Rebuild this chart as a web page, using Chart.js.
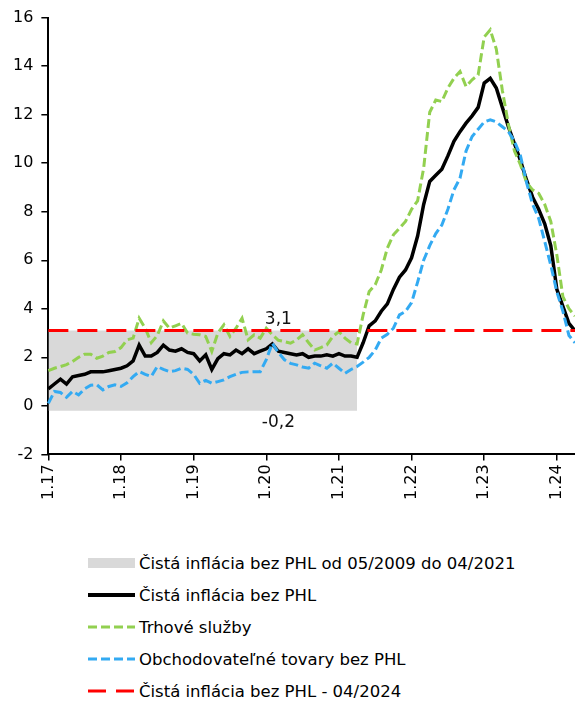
<!DOCTYPE html>
<html>
<head>
<meta charset="utf-8">
<script src="https://cdn.jsdelivr.net/npm/chart.js@4"></script>
<style>
    body { margin: 0; background: #fff; font-family: "DejaVu Sans", Verdana, sans-serif; overflow: hidden; }
    #wrap { position: relative; width: 575px; height: 701px; }
    #chart-box { position: absolute; left: 0; top: 0; width: 575px; height: 504px; }
    #legend { position: absolute; left: 88px; top: 547px; }
    .row { display: flex; align-items: center; height: 32px; font-size: 16.5px; color: #000; white-space: nowrap; }
    .row svg { width: 48px; height: 12px; margin-right: 3px; }
</style>
</head>
<body>
<div id="wrap">
    <div id="chart-box"><canvas id="inflChart"></canvas></div>
    <div id="legend"></div>
</div>
<script>
// months 1.17 ... 4.24
const categories = [];
for (let y = 17; y <= 24; y++) {
    for (let m = 1; m <= 12; m++) {
        if (y === 24 && m > 4) break;
        categories.push(m + "." + y);
    }
}
const tickLabels = ["1.17", "1.18", "1.19", "1.20", "1.21", "1.22", "1.23", "1.24"];

// Čistá inflácia bez PHL
const coreInfl = [
    0.7, 0.9, 1.1, 0.9, 1.2, 1.25, 1.3, 1.4, 1.4, 1.4, 1.45, 1.5,
    1.55, 1.65, 1.85, 2.5, 2.05, 2.05, 2.2, 2.5, 2.3, 2.25, 2.35, 2.2,
    2.15, 1.85, 2.1, 1.5, 1.95, 2.15, 2.1, 2.3, 2.15, 2.35, 2.15, 2.25,
    2.35, 2.55, 2.25, 2.2, 2.15, 2.1, 2.15, 2.0, 2.05, 2.05, 2.1, 2.05,
    2.15, 2.05, 2.05, 2.0, 2.6, 3.3, 3.5, 3.9, 4.2, 4.8, 5.3, 5.6,
    6.1, 7.0, 8.3, 9.25, 9.5, 9.75, 10.3, 10.9, 11.3, 11.65, 11.95, 12.3,
    13.3, 13.5, 13.1, 12.3, 11.5, 10.8, 10.1, 9.3, 8.6, 8.1, 7.5, 6.6,
    4.8, 4.1, 3.4, 3.1
];

// Trhové služby
const marketServices = [
    1.45, 1.55, 1.62, 1.7, 1.83, 2.0, 2.13, 2.13, 1.96, 2.05, 2.2, 2.24,
    2.4, 2.72, 2.79, 3.61, 3.2, 2.6, 2.9, 3.5, 3.2, 3.3, 3.4, 3.0,
    2.95, 2.93, 2.86, 2.24, 3.0, 3.34, 2.86, 3.2, 3.61, 2.72, 2.93, 2.79,
    3.2, 2.93, 2.7, 2.65, 2.58, 2.72, 2.93, 2.6, 2.3, 2.4, 2.51, 2.86,
    3.06, 2.79, 2.6, 2.55, 3.75, 4.71, 4.99, 5.6, 6.5, 7.05, 7.32, 7.6,
    8.1, 8.45, 9.8, 12.1, 12.6, 12.54, 13.1, 13.5, 13.78, 13.16, 13.44, 13.64,
    15.2, 15.5, 14.7, 13.0, 11.6, 10.5, 9.93, 9.2, 8.9, 8.76, 8.3, 7.6,
    6.22, 4.5, 4.0, 3.7
];

// Obchodovateľné tovary bez PHL
const tradables = [
    0.1, 0.59, 0.55, 0.35, 0.6, 0.45, 0.7, 0.85, 0.87, 0.66, 0.8, 0.87,
    0.8, 0.95, 1.2, 1.41, 1.3, 1.21, 1.62, 1.5, 1.41, 1.45, 1.55, 1.5,
    1.3, 0.93, 1.05, 0.93, 1.0, 1.07, 1.2, 1.3, 1.38, 1.4, 1.41, 1.41,
    1.9, 2.58, 2.2, 1.9, 1.75, 1.69, 1.6, 1.55, 1.76, 1.65, 1.55, 1.76,
    1.55, 1.34, 1.5, 1.62, 1.8, 2.0, 2.3, 2.79, 2.95, 3.2, 3.75, 3.89,
    4.25, 5.1, 6.0, 6.6, 7.1, 7.45, 8.1, 8.9, 9.38, 10.5, 11.1, 11.4,
    11.7, 11.79, 11.7, 11.5, 11.3, 10.9, 10.3, 9.2, 8.3, 7.73, 6.77, 5.8,
    4.7, 3.9, 2.9, 2.6
];

// range 05/2009 - 04/2021 and latest value 04/2024
const bandTop = 3.1;
const bandBottom = -0.2;
const bandEnd = "4.21";
const latestCore = 3.1;

const bandEndIdx = categories.indexOf(bandEnd);
const bandData = categories.map((c, i) => (i <= bandEndIdx ? bandTop : null));
const latestLine = categories.map(() => latestCore);

Chart.defaults.font.family = "'DejaVu Sans', Verdana, sans-serif";
Chart.defaults.font.size = 16;
Chart.defaults.color = "#000";

// texts 3,1 and -0,2 at the band edges
const bandLabels = {
    id: "bandLabels",
    afterDatasetsDraw(chart) {
        const { ctx, scales } = chart;
        const x = scales.x.getPixelForValue(38);
        ctx.save();
        ctx.font = "17px 'DejaVu Sans', Verdana, sans-serif";
        ctx.fillStyle = "#111";
        ctx.textAlign = "center";
        ctx.textBaseline = "bottom";
        ctx.fillText(String(bandTop).replace(".", ","), x, scales.y.getPixelForValue(bandTop) - 3);
        ctx.textBaseline = "top";
        ctx.fillText(String(bandBottom).replace(".", ","), x, scales.y.getPixelForValue(bandBottom) + 3);
        ctx.restore();
    }
};

const isTick = (i) => tickLabels.includes(categories[i]);

new Chart(document.getElementById("inflChart"), {
    type: "line",
    data: {
        labels: categories,
        datasets: [
            {
                label: "Čistá inflácia bez PHL - 04/2024",
                data: latestLine,
                borderColor: "#ff0000",
                borderWidth: 3,
                borderDash: [20, 9],
                pointRadius: 0,
                fill: false
            },
            {
                label: "Obchodovateľné tovary bez PHL",
                data: tradables,
                borderColor: "#33aaf2",
                borderWidth: 3,
                borderDash: [9, 4],
                pointRadius: 0,
                tension: 0,
                fill: false
            },
            {
                label: "Trhové služby",
                data: marketServices,
                borderColor: "#92d050",
                borderWidth: 3,
                borderDash: [9, 4],
                pointRadius: 0,
                tension: 0,
                fill: false
            },
            {
                label: "Čistá inflácia bez PHL",
                data: coreInfl,
                borderColor: "#000",
                borderWidth: 3.5,
                pointRadius: 0,
                tension: 0,
                fill: false
            },
            {
                label: "Čistá inflácia bez PHL od 05/2009 do 04/2021",
                data: bandData,
                borderWidth: 0,
                borderColor: "rgba(0,0,0,0)",
                backgroundColor: "#d9d9d9",
                pointRadius: 0,
                fill: { value: bandBottom }
            }
        ]
    },
    options: {
        responsive: true,
        maintainAspectRatio: false,
        animation: false,
        layout: { padding: { left: 5, right: 0, top: 8, bottom: 0 } },
        plugins: {
            legend: { display: false },
            tooltip: { enabled: false }
        },
        scales: {
            x: {
                type: "category",
                offset: false,
                afterFit: (scale) => { scale.paddingRight = 0; },
                grid: {
                    drawOnChartArea: false,
                    tickLength: 6,
                    color: (c) => (isTick(c.index) ? "#000" : "rgba(0,0,0,0)"),
                    lineWidth: 1.5
                },
                border: { color: "#000", width: 2 },
                ticks: {
                    autoSkip: false,
                    minRotation: 90,
                    maxRotation: 90,
                    padding: 4,
                    callback: (val, i) => (isTick(i) ? categories[i] : "")
                }
            },
            y: {
                min: -2,
                max: 16,
                ticks: { stepSize: 2, padding: 8 },
                grid: { drawOnChartArea: false, tickLength: 7, color: "#000", lineWidth: 1.5 },
                border: { color: "#000", width: 2 }
            }
        }
    },
    plugins: [bandLabels]
});

// legend
const legendItems = [
    { text: "Čistá inflácia bez PHL od 05/2009 do 04/2021", type: "box", color: "#d9d9d9" },
    { text: "Čistá inflácia bez PHL", color: "#000", width: 4, dash: "" },
    { text: "Trhové služby", color: "#92d050", width: 3, dash: "9 4" },
    { text: "Obchodovateľné tovary bez PHL", color: "#33aaf2", width: 3, dash: "9 4" },
    { text: "Čistá inflácia bez PHL - 04/2024", color: "#ff0000", width: 3, dash: "18 10" }
];
const legendEl = document.getElementById("legend");
legendItems.forEach(item => {
    const row = document.createElement("div");
    row.className = "row";
    let svg;
    if (item.type === "box") {
        svg = `<svg viewBox="0 0 48 12"><rect x="0" y="1" width="47" height="10" fill="${item.color}"/></svg>`;
    } else {
        svg = `<svg viewBox="0 0 48 12"><line x1="0" y1="6" x2="47" y2="6" stroke="${item.color}" stroke-width="${item.width}" stroke-dasharray="${item.dash}"/></svg>`;
    }
    row.innerHTML = svg + `<span>${item.text}</span>`;
    legendEl.appendChild(row);
});
</script>
</body>
</html>
